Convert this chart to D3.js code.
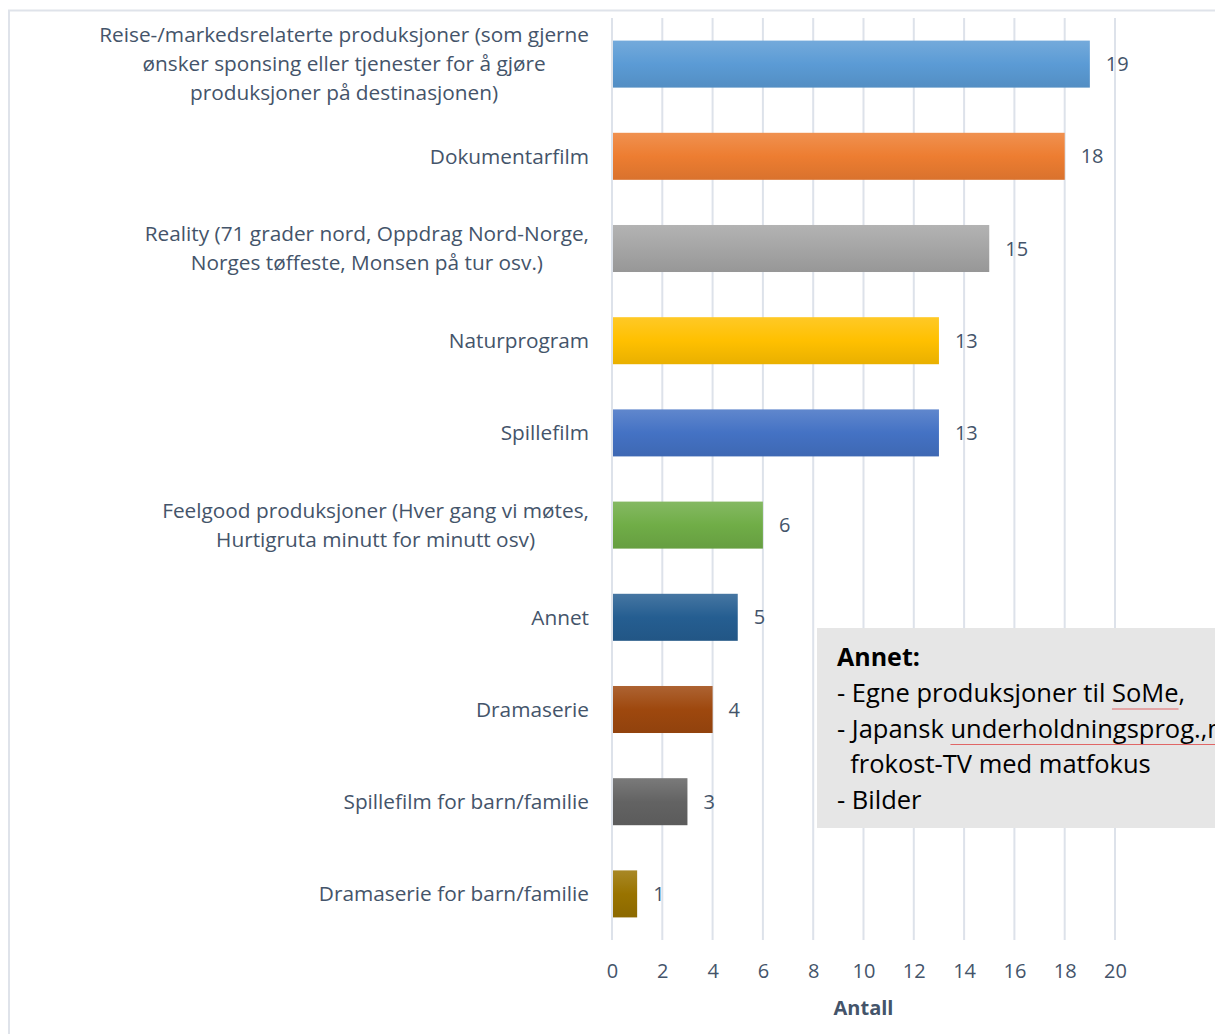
<!DOCTYPE html>
<html>
<head>
<meta charset="utf-8">
<script src="https://cdn.jsdelivr.net/npm/d3@7"></script>
<style>
  body { margin: 0; background: #fff; }
  svg { display: block; font-family: "Open Sans", sans-serif; }
</style>
</head>
<body>
<div id="chart"></div>
<script>
// categories, top to bottom
var categories = [
  "Reise-/markedsrelaterte produksjoner (som gjerne|ønsker sponsing eller tjenester for å gjøre|produksjoner på destinasjonen)",
  "Dokumentarfilm",
  "Reality (71 grader nord, Oppdrag Nord-Norge,|Norges tøffeste, Monsen på tur osv.)",
  "Naturprogram",
  "Spillefilm",
  "Feelgood produksjoner (Hver gang vi møtes,|Hurtigruta minutt for minutt osv)",
  "Annet",
  "Dramaserie",
  "Spillefilm for barn/familie",
  "Dramaserie for barn/familie"
];
var values = [19, 18, 15, 13, 13, 6, 5, 4, 3, 1];
var barColors = ["#5b9bd5", "#ed7d31", "#a5a5a5", "#ffc000", "#4472c4",
                 "#70ad47", "#255e91", "#9e480e", "#636363", "#997300"];
var xTicks = [0, 2, 4, 6, 8, 10, 12, 14, 16, 18, 20];
var noteLines = ["- Egne produksjoner til SoMe,", "- Japansk underholdningsprog.,med",
                 "  frokost-TV med matfokus", "- Bilder"];

var width = 1215, height = 1034,
    plot = {left: 612, right: 1115, top: 18, bottom: 940},
    textColor = "#44546a";

var svg = d3.select("#chart").append("svg")
  .attr("width", width)
  .attr("height", height);

// gradients per bar
var defs = svg.append("defs");
barColors.forEach(function(c, i) {
  var g = defs.append("linearGradient")
    .attr("id", "grad" + i)
    .attr("x1", 0).attr("y1", 0).attr("x2", 0).attr("y2", 1);
  var base = d3.color(c);
  g.append("stop").attr("offset", "0%").attr("stop-color", d3.interpolateRgb(c, "#fff")(0.15));
  g.append("stop").attr("offset", "50%").attr("stop-color", c);
  g.append("stop").attr("offset", "100%").attr("stop-color", base.darker(0.25));
});

// chart border
svg.append("rect")
  .attr("x", 9).attr("y", 10.5)
  .attr("width", width + 10).attr("height", height)
  .attr("fill", "none")
  .attr("stroke", "#dfe3ea")
  .attr("stroke-width", 2);

var x = d3.scaleLinear().domain([0, 20]).range([plot.left, plot.right]);
var y = d3.scaleBand().domain(categories).range([plot.top, plot.bottom])
  .paddingInner(0.49).paddingOuter(0.245);

// gridlines
svg.append("g")
  .selectAll("line")
  .data(xTicks)
  .enter().append("line")
  .attr("x1", d => x(d)).attr("x2", d => x(d))
  .attr("y1", plot.top).attr("y2", plot.bottom)
  .attr("stroke", "#dde2ea")
  .attr("stroke-width", 2);

// x axis labels
var xAxis = d3.axisBottom(x).tickValues(xTicks).tickSize(0).tickPadding(0);
var gx = svg.append("g")
  .attr("transform", `translate(0,${plot.bottom + 24})`)
  .call(xAxis);
gx.select(".domain").remove();
gx.selectAll("text")
  .attr("fill", textColor)
  .style("font-size", "20px")
  .style("font-family", "'Open Sans', sans-serif");

svg.append("text")
  .attr("x", (plot.left + plot.right) / 2)
  .attr("y", 1015)
  .attr("text-anchor", "middle")
  .attr("fill", textColor)
  .style("font-size", "20px")
  .style("font-weight", "bold")
  .text("Antall");

// bars
svg.append("g")
  .selectAll("rect")
  .data(values)
  .enter().append("rect")
  .attr("x", x(0) + 1)
  .attr("y", (d, i) => y(categories[i]))
  .attr("width", d => x(d) - x(0) - 1)
  .attr("height", y.bandwidth())
  .attr("fill", (d, i) => "url(#grad" + i + ")");

// value labels
svg.append("g")
  .selectAll("text")
  .data(values)
  .enter().append("text")
  .attr("x", d => x(d) + 16)
  .attr("y", (d, i) => y(categories[i]) + y.bandwidth() / 2)
  .attr("dy", "0.35em")
  .attr("fill", textColor)
  .style("font-size", "20px")
  .text(d => d);

// category labels (wrapped lines centred within a right-aligned block)
var lineH = 29;
categories.forEach(function(cat, i) {
  var lines = cat.split("|");
  var g = svg.append("g");
  var cy = y(cat) + y.bandwidth() / 2;
  var texts = lines.map(function(l, j) {
    return g.append("text")
      .attr("y", cy + (j - (lines.length - 1) / 2) * lineH)
      .attr("dy", "0.35em")
      .attr("text-anchor", "middle")
      .attr("fill", textColor)
      .style("font-size", "20.8px")
      .text(l);
  });
  var maxW = d3.max(texts, t => t.node().getComputedTextLength());
  texts.forEach(t => t.attr("x", 589 - maxW / 2));
});

// note box
var note = svg.append("g");
note.append("rect")
  .attr("x", 817).attr("y", 628)
  .attr("width", 420).attr("height", 200)
  .attr("fill", "#e6e6e6");
note.append("text")
  .attr("x", 837).attr("y", 666)
  .attr("fill", "#000")
  .style("font-size", "25px")
  .style("font-weight", "bold")
  .text("Annet:");
noteLines.forEach(function(l, j) {
  var t = note.append("text")
    .attr("x", 837).attr("y", 702 + j * 35.5)
    .attr("fill", "#000")
    .style("font-size", "25.5px")
    .attr("xml:space", "preserve")
    .text(l);
  // spell-check style red underline under flagged words
  ["SoMe", "underholdningsprog.,med"].forEach(function(w) {
    var k = l.indexOf(w);
    if (k < 0) return;
    var n = t.node();
    var x0 = 837 + n.getSubStringLength(0, k);
    var x1 = x0 + n.getSubStringLength(k, w.length);
    note.append("line")
      .attr("x1", x0).attr("x2", x1)
      .attr("y1", 702 + j * 35.5 + 7).attr("y2", 702 + j * 35.5 + 7)
      .attr("stroke", "#e06666")
      .attr("stroke-width", 1);
  });
});
</script>
</body>
</html>
